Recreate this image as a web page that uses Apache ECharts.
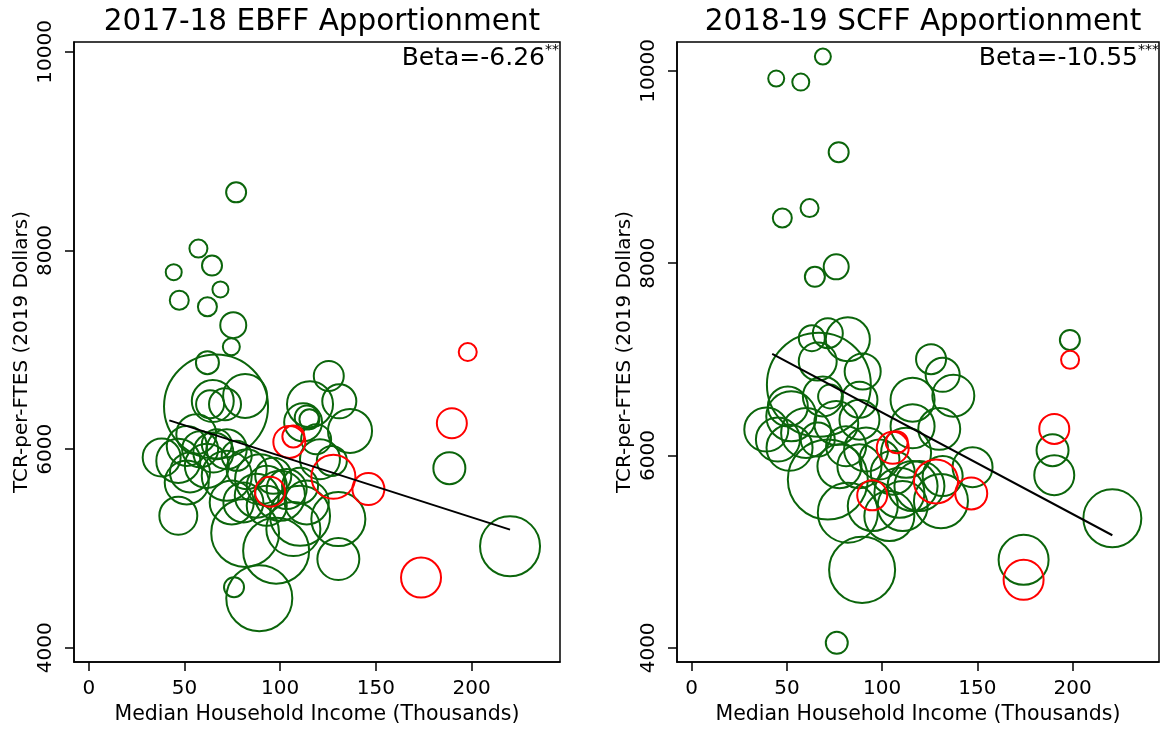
<!DOCTYPE html>
<html>
<head>
<meta charset="utf-8">
<script src="https://cdn.jsdelivr.net/npm/echarts@6/dist/echarts.min.js"></script>
<style>
html,body{margin:0;padding:0;background:#fff;}
#chart{width:1161px;height:730px;}
</style>
</head>
<body>
<div id="chart"></div>
<script>
// ---------- DATA ----------
// Panel 1: 2017-18 EBFF Apportionment
const ebffGreenIncome = [77.0,57.3,64.4,44.4,68.8,47.3,62.0,75.5,74.5,62.0,66.5,64.8,63.4,71.2,81.7,125.4,115.6,130.9,136.5,113.9,112.0,127.0,38.1,46.8,51.2,58.2,65.1,66.9,72.1,77.3,52.9,61.7,72.1,82.5,46.8,51.2,89.5,93.0,96.4,87.8,99.9,103.4,110.4,113.9,93.0,80.8,74.7,81.7,97.9,89.1,75.9,130.4,130.4,110.4,106.9,115.3,120.8,118.8,188.4,220.1,56.2];
const ebffGreenTCR    = [8586,8020,7849,7782,7608,7500,7434,7249,7032,6871,6429,6485,6452,6452,6536,6737,6452,6482,6184,6319,6271,5882,5917,5882,6033,6000,5967,6050,6000,5933,5766,5832,5732,5799,5330,5665,5698,5631,5732,5531,5531,5598,5631,5464,5430,5464,5464,5156,4978,4500,4610,4894,5296,5330,5196,6301,5899,6100,5809,5022,6151];
const ebffGreenFTES   = [4.0,3.24,4.0,2.56,2.56,3.61,3.61,6.76,2.89,5.29,108.2,17.6,7.84,10.24,19.4,9.0,21.2,11.6,19.4,5.76,14.4,9.0,14.4,19.4,16,13,16,9,16,9,16,19.4,25,16,14.4,19.4,25,16,13,19.4,25,16,13,19.4,16,16,19.4,46,43.6,43.6,4,17.6,29.2,36,29.2,4,16,9,10.24,36,16];
const ebffRedIncome = [198.0,189.7,173.6,146.1,127.8,104.8,106.9,94.7];
const ebffRedTCR    = [6978,6261,4707,5598,5722,6073,6128,5571];
const ebffRedFTES   = [3.24,9,16,10.24,19.4,10.24,4.84,9];
const ebffFitIncome = [42.1,220.1];
const ebffFitTCR    = [6290,5190];
const ebffBeta = '-6.26', ebffStars = '**';

// Panel 2: 2018-19 SCFF Apportionment
const scffGreenIncome = [68.9,44.4,57.3,77.2,61.9,47.6,75.9,64.7,71.5,63.1,82.0,66.2,89.8,66.8,68.9,72.7,50.5,39.2,45.3,51.4,66.2,82.0,95.1,89.5,76.2,198.6,189.5,190.4,220.9,174.3,147.5,125.7,131.8,137.4,116.0,130.0,130.9,60.1,75.9,88.1,81.1,91.6,77.6,88.1,98.6,105.6,71.5,109.1,116.0,52.3,88.1,116.0,112.6,119.6,110.8,131.8,103.8];
const scffGreenTCR    = [10148,9920,9883,9154,8573,8470,7962,7858,7272,7220,7209,6977,6874,6736,6615,6615,6511,6270,6166,6080,6166,5406,5475,4811,4052,7202,6055,5796,5347,4915,5879,7002,6839,6622,6580,6277,5526,6235,6339,6373,6097,6062,5889,5889,5959,5821,5751,5613,5682,6408,6580,6304,6028,5682,5475,5786,5371];
const scffGreenFTES   = [2.56,2.56,2.89,4,3.24,3.61,6.25,4,9,6.76,19.4,14.4,13,108,16,5.76,16,19.4,19.4,21.2,11.6,36,25,43.6,4.84,4,10.24,16,33.6,25,16,9,11.6,17.6,19.4,17.6,29.2,25,19.4,16,16,19.4,19.4,19.4,16,19.4,64,25,25,25,13,19.4,25,25,25,16,25];
const scffRedIncome = [198.7,190.4,174.3,146.8,128.3,105.6,107.7,94.8];
const scffRedTCR    = [6995,6277,4708,5606,5731,6080,6138,5586];
const scffRedFTES   = [3.24,9,16,10.24,19.4,10.24,4.84,9];
const scffFitIncome = [42.3,220.9];
const scffFitTCR    = [7057,5171];
const scffBeta = '-10.55', scffStars = '***';

const xTicks = [0,50,100,150,200];
const yTicks = [4000,6000,8000,10000];
const titles = ['2017-18 EBFF Apportionment','2018-19 SCFF Apportionment'];
const xName = 'Median Household Income (Thousands)';
const yName = 'TCR-per-FTES (2019 Dollars)';

// ---------- CHART ----------
const FONT = 'DejaVu Sans';
const GREEN = '#0b650b', RED = '#ff0000';
const zip3 = (a,b,c) => a.map((v,i)=>[v,b[i],c[i]]);
const zip2 = (a,b) => a.map((v,i)=>[v,b[i]]);

const grids = [
  {left:74, top:42, width:486, height:621, show:true, borderColor:'#000', borderWidth:1.5},
  {left:677, top:42, width:482, height:621, show:true, borderColor:'#000', borderWidth:1.5}
];
const xRanges = [[-7.7,246.2],[-7.7,245.4]];
const yRanges = [[3856,10100],[3852,10300]];

function xAxis(i){
  return {
    gridIndex:i, type:'value', min:xRanges[i][0], max:xRanges[i][1], position:'bottom',
    name:xName, nameLocation:'middle', nameGap:41,
    nameTextStyle:{fontFamily:FONT, fontSize:20.5, color:'#000'},
    axisLine:{show:true, onZero:false, lineStyle:{color:'#000', width:1.5}}, splitLine:{show:false},
    axisTick:{show:true, inside:false, length:9, lineStyle:{color:'#000', width:1.5}, customValues:xTicks},
    axisLabel:{fontFamily:FONT, fontSize:20, color:'#000', margin:17, customValues:xTicks,
               formatter:(v)=>String(v)}
  };
}
function yAxis(i){
  return {
    gridIndex:i, type:'value', min:yRanges[i][0], max:yRanges[i][1], position:'left',
    name:yName, nameLocation:'middle', nameGap:42,
    nameTextStyle:{fontFamily:FONT, fontSize:20, color:'#000'},
    axisLine:{show:true, onZero:false, lineStyle:{color:'#000', width:1.5}}, splitLine:{show:false},
    axisTick:{show:true, inside:false, length:9, lineStyle:{color:'#000', width:1.5}, customValues:yTicks},
    axisLabel:{fontFamily:FONT, fontSize:20, color:'#000', margin:18, rotate:90, customValues:yTicks,
               formatter:(v)=>String(v)}
  };
}
function bubbles(i, data, color, z){
  return {
    type:'scatter', xAxisIndex:i, yAxisIndex:i, data:data, z:z,
    symbol:'circle', symbolSize:(v)=>10*Math.sqrt(v[2]),
    itemStyle:{color:'rgba(0,0,0,0)', borderColor:color, borderWidth:2, opacity:1},
    emphasis:{disabled:true}, silent:true
  };
}
function fit(i, data){
  return {
    type:'line', xAxisIndex:i, yAxisIndex:i, data:data, z:10,
    symbol:'none', lineStyle:{color:'#000', width:2}, silent:true
  };
}
const betaRich = {
  a:{fontFamily:FONT, fontSize:25, fontWeight:'normal', color:'#000', lineHeight:30},
  s:{fontFamily:FONT, fontSize:14, fontWeight:'normal', color:'#000', verticalAlign:'top', lineHeight:30}
};

const option = {
  animation:false,
  backgroundColor:'#fff',
  title:[
    {text:titles[0], left:317, top:2, textAlign:'center', textStyle:{fontFamily:FONT, fontSize:29.5, fontWeight:'normal', color:'#000'}},
    {text:titles[1], left:918, top:2, textAlign:'center', textStyle:{fontFamily:FONT, fontSize:29.5, fontWeight:'normal', color:'#000'}},
    {text:'{a|Beta='+ebffBeta+'}{s|'+ebffStars+'}', right:1161-559, top:43, padding:0, textStyle:{fontWeight:'normal', rich:betaRich}},
    {text:'{a|Beta='+scffBeta+'}{s|'+scffStars+'}', right:2, top:43, padding:0, textStyle:{fontWeight:'normal', rich:betaRich}}
  ],
  grid:grids,
  xAxis:[xAxis(0), xAxis(1)],
  yAxis:[yAxis(0), yAxis(1)],
  series:[
    bubbles(0, zip3(ebffGreenIncome, ebffGreenTCR, ebffGreenFTES), GREEN, 2),
    bubbles(0, zip3(ebffRedIncome, ebffRedTCR, ebffRedFTES), RED, 3),
    fit(0, zip2(ebffFitIncome, ebffFitTCR)),
    bubbles(1, zip3(scffGreenIncome, scffGreenTCR, scffGreenFTES), GREEN, 2),
    bubbles(1, zip3(scffRedIncome, scffRedTCR, scffRedFTES), RED, 3),
    fit(1, zip2(scffFitIncome, scffFitTCR))
  ]
};
const chart = echarts.init(document.getElementById('chart'), null, {renderer:'canvas'});
chart.setOption(option);
</script>
</body>
</html>
